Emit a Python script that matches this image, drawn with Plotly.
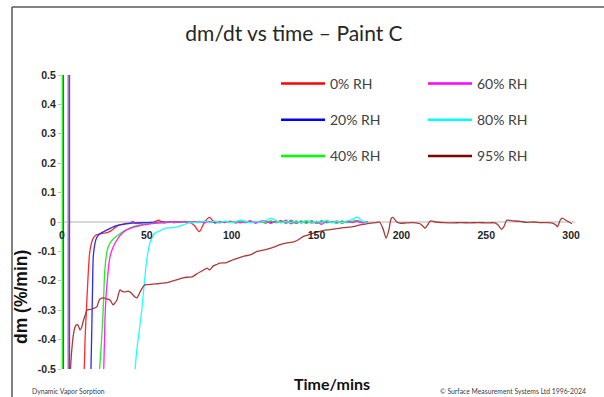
import plotly.graph_objects as go

# Shared time grid (min) for the settled tails of the 0-80 % RH runs
TAIL_T = [45, 48, 51, 54, 57, 60, 63, 66, 69, 72, 75, 78, 81, 84, 87, 90, 93, 96, 99, 102,
          105, 108, 111, 114, 117, 120, 123, 126, 129, 132, 135, 138, 141, 144, 147, 150,
          153, 156, 159, 162, 165, 168, 171, 174, 177, 180]

# Each run opens with an off-scale spike at the RH step (time, +peak, -peak)
SPIKE_T = [4.2, 0.7, 0.2, 4.0, 3.4, 4.4]
SPIKE_HI = [3.0, 3.0, 3.0, 3.0, 3.0, 3.0]
SPIKE_LO = [-3.0, -3.0, -3.0, -3.0, -3.0, -3.0]

# 0 % RH
RED_RISE_T = [13.0, 13.6, 14.2, 14.8, 15.5, 16.2, 17.0, 18.0, 19.0, 20.5, 22.5,
              24.5, 26.5, 28.0, 29.5, 31.0, 32.5, 34.0, 36.0, 38.0, 40.0, 41.8, 43.0]
RED_RISE_V = [-0.52, -0.40, -0.32, -0.25, -0.17, -0.11, -0.08, -0.06, -0.05, -0.043,
              -0.040, -0.038, -0.036, -0.033, -0.027, -0.020, -0.014, -0.010, -0.007, -0.005,
              -0.005, 0.002, -0.004]
RED_TAIL_V = [-0.004, -0.003, -0.002, -0.001, 0.006, -0.003, 0.001, -0.002, 0.002, -0.001,
              0.0, -0.012, -0.033, 0.0, 0.016, -0.004, 0.002, -0.002, 0.003, -0.003,
              0.001, -0.002, 0.004, -0.003, 0.002, -0.004, 0.003, -0.002, 0.005, -0.004,
              0.006, -0.005, 0.002, -0.003, 0.004, -0.005, 0.003, -0.002, 0.001, -0.003,
              0.002, -0.001, 0.001, 0.005, -0.002, 0.001]

# 20 % RH
BLUE_RISE_T = [17.0, 17.5, 18.0, 18.4, 19.2, 20.0, 21.0, 22.4, 24.5, 26.5, 29.0,
               31.2, 34.0, 37.0, 41.0]
BLUE_RISE_V = [-0.52, -0.38, -0.22, -0.12, -0.08, -0.06, -0.048, -0.04, -0.033,
               -0.027, -0.02, -0.014, -0.01, -0.007, -0.004]
BLUE_TAIL_V = [-0.003, -0.002, -0.002, -0.001, -0.001, 0.0, -0.001, 0.0, 0.001, -0.001,
               0.0, 0.001, -0.001, 0.0, 0.001, -0.001, 0.0, 0.002, -0.001, 0.0,
               0.001, -0.002, 0.001, 0.0, -0.001, 0.002, -0.001, 0.0, 0.002, -0.002,
               0.001, 0.0, -0.002, 0.002, -0.001, 0.001, -0.002, 0.001, 0.0, -0.001,
               0.002, -0.001, 0.001, 0.003, -0.001, 0.0]

# 40 % RH
GREEN_RISE_T = [21.9, 23.0, 24.0, 24.6, 25.0, 25.6, 26.3, 27.2, 28.3, 30.5, 33.2,
                36.5, 40.0, 43.0]
GREEN_RISE_V = [-0.52, -0.43, -0.333, -0.25, -0.186, -0.14, -0.106, -0.085,
                -0.072, -0.056, -0.044, -0.031, -0.021, -0.014]
GREEN_TAIL_V = [-0.011, -0.008, -0.006, -0.004, -0.003, -0.002, -0.001, -0.002, 0.0, -0.001,
                0.001, -0.001, 0.0, 0.002, -0.002, 0.001, -0.003, 0.002, 0.001, -0.002,
                0.001, -0.001, 0.003, -0.002, 0.002, -0.003, 0.004, -0.002, 0.003, -0.004,
                0.005, -0.003, 0.004, -0.005, 0.003, -0.004, 0.005, -0.003, 0.002, -0.004,
                0.003, -0.002, 0.002, 0.004, -0.001, 0.0]

# 60 % RH
MAG_RISE_T = [24.5, 25.0, 25.3, 26.0, 26.9, 27.6, 28.3, 30.2, 33.2, 35.5, 38.1, 42.0]
MAG_RISE_V = [-0.52, -0.41, -0.333, -0.25, -0.186, -0.145, -0.118, -0.084, -0.054,
              -0.038, -0.027, -0.018]
MAG_TAIL_V = [-0.014, -0.010, -0.007, -0.005, -0.003, -0.002, -0.001, 0.0, -0.001, 0.001,
              -0.001, 0.0, 0.002, -0.003, 0.001, 0.002, -0.002, 0.001, -0.001, 0.002,
              -0.003, 0.001, 0.003, -0.004, 0.002, 0.004, -0.005, 0.003, -0.002, 0.006,
              -0.006, 0.004, -0.003, 0.005, -0.004, 0.002, -0.008, 0.003, -0.002, 0.004,
              -0.005, 0.003, -0.002, 0.002, -0.003, 0.001]

# 80 % RH (tail starts at 78 min)
CYAN_RISE_T = [42.8, 44.0, 45.5, 47.0, 48.3, 49.5, 50.7, 52.0, 53.5, 55.0, 57.0,
               59.5, 62.0, 64.8, 66.5, 68.4, 71.3, 74.2]
CYAN_RISE_V = [-0.52, -0.44, -0.37, -0.3, -0.22, -0.15, -0.1, -0.068, -0.048,
               -0.037, -0.032, -0.024, -0.02, -0.02, -0.018, -0.016, -0.01, -0.004]
CYAN_TAIL_V = [-0.001, 0.0, 0.002, -0.002, 0.003, -0.001, 0.002, -0.002, 0.001, 0.006,
               0.003, -0.003, 0.002, -0.001, 0.004, 0.013, 0.005, -0.003, 0.002, -0.002,
               0.004, -0.003, 0.005, -0.004, 0.003, -0.002, 0.006, -0.003, 0.002, -0.003,
               0.004, 0.008, 0.017, 0.003, -0.001]
CYAN_TAIL_START = 78

# 95 % RH
BROWN_T = [4.6, 5.2, 6.0, 6.8, 7.7, 8.5, 9.4, 10.6, 11.5, 12.4, 13.5, 14.7, 16.0,
           17.7, 19.0, 20.6, 21.5, 22.4, 24.5, 26.5, 28.3, 30.1, 31.2, 32.4, 33.3, 34.2,
           35.5, 37.1, 38.9, 40.5, 41.8, 43.0, 44.2, 45.0, 46.0, 47.5, 48.9, 51.0, 53.6,
           56.5, 59.5, 62.5, 65.4, 68.5, 71.3, 74.0, 76.6, 79.0, 81.3, 83.0, 85.4, 87.0,
           89.0, 91.0, 93.0, 97.0, 101.0, 105.0, 108.0, 111.0, 115.0, 119.0, 122.6, 126.0,
           128.5, 132.0, 137.0, 140.0, 142.0, 145.0, 148.0, 152.0, 156.0, 160.0, 164.0,
           168.0, 171.5, 175.0, 178.5, 182.0, 185.0, 187.0, 189.0, 191.0, 192.5, 194.0,
           195.0, 197.0, 199.0, 203.0, 207.0, 211.0, 213.0, 214.0, 215.5, 217.0, 220.0,
           225.0, 230.0, 235.0, 240.0, 245.0, 250.0, 255.0, 257.0, 259.0, 260.5, 262.0,
           266.0, 270.0, 274.0, 278.0, 282.0, 286.0, 289.0, 291.0, 292.0, 293.5, 294.6,
           297.0, 300.5]
BROWN_V = [-0.55, -0.48, -0.42, -0.38, -0.357, -0.35, -0.35, -0.367, -0.36, -0.34,
           -0.32, -0.30, -0.298, -0.296, -0.293, -0.288, -0.272, -0.262, -0.258, -0.262,
           -0.265, -0.282, -0.275, -0.265, -0.245, -0.231, -0.236, -0.238, -0.235, -0.24,
           -0.248, -0.255, -0.258, -0.25, -0.238, -0.222, -0.214, -0.213, -0.211, -0.21,
           -0.208, -0.205, -0.2, -0.195, -0.19, -0.188, -0.187, -0.178, -0.17, -0.165,
           -0.157, -0.163, -0.15, -0.145, -0.14, -0.138, -0.128, -0.12, -0.115, -0.112,
           -0.1, -0.095, -0.09, -0.083, -0.077, -0.072, -0.067, -0.058, -0.05, -0.044,
           -0.038, -0.032, -0.027, -0.024, -0.021, -0.018, -0.016, -0.011, -0.007, -0.004,
           -0.002, 0.0, -0.02, -0.055, -0.03, 0.012, 0.016, 0.002, -0.004, -0.003, -0.002,
           -0.006, -0.016, -0.021, -0.01, 0.004, 0.0, -0.002, -0.003, -0.002, -0.003,
           -0.002, -0.003, -0.003, -0.01, -0.025, -0.015, 0.006, 0.004, 0.002, -0.001, 0.0,
           -0.002, -0.002, -0.004, -0.01, -0.016, 0.005, 0.013, 0.006, -0.006]

SERIES_NAMES = ["0% RH", "20% RH", "40% RH", "60% RH", "80% RH", "95% RH"]
SERIES_COLORS = ["#ff2a2a", "#2a2aff", "#22ee22", "#ff22ff", "#22ffff", "#a83a3a"]
LEGEND_COLORS = ["#ff0000", "#0000ff", "#00ff00", "#ff00ff", "#00ffff", "#7f0000"]

X_TICKS = [0, 50, 100, 150, 200, 250, 300]
Y_TICKS = [0.5, 0.4, 0.3, 0.2, 0.1, 0, -0.1, -0.2, -0.3, -0.4, -0.5]
Y_LABELS = ["0.5", "0.4", "0.3", "0.2", "0.1", "0", "-0.1", "-0.2", "-0.3", "-0.4", "-0.5"]

cyan_idx = TAIL_T.index(CYAN_TAIL_START)
series = [
    (RED_RISE_T + TAIL_T, RED_RISE_V + RED_TAIL_V),
    (BLUE_RISE_T + TAIL_T, BLUE_RISE_V + BLUE_TAIL_V),
    (GREEN_RISE_T + TAIL_T, GREEN_RISE_V + GREEN_TAIL_V),
    (MAG_RISE_T + TAIL_T, MAG_RISE_V + MAG_TAIL_V),
    (CYAN_RISE_T + TAIL_T[cyan_idx:], CYAN_RISE_V + CYAN_TAIL_V),
    (BROWN_T, BROWN_V),
]

fig = go.Figure()
for i, ((t, v), color) in enumerate(zip(series, SERIES_COLORS)):
    # straight spike at the step, then a smoothed response curve
    fig.add_trace(go.Scatter(x=[SPIKE_T[i], SPIKE_T[i]], y=[SPIKE_HI[i], SPIKE_LO[i]],
                             mode="lines", showlegend=False, hoverinfo="skip",
                             line=dict(color=color, width=1.4)))
    fig.add_trace(go.Scatter(x=t, y=v, mode="lines", showlegend=False, hoverinfo="skip",
                             line=dict(color=color, width=1.3, shape="spline", smoothing=0.6)))

# Legend keys: two columns of three
for i, (name, color) in enumerate(zip(SERIES_NAMES, LEGEND_COLORS)):
    fig.add_trace(go.Scatter(x=[None], y=[None], mode="lines", name=name,
                             legend="legend" if i < 3 else "legend2",
                             legendgroup=f"g{i}",
                             line=dict(color=color, width=2.5)))

L, W, T, H = 62, 513, 75, 294
FW, FH = 604, 397


def px_x(p):
    return (p - L) / W


def px_y(p):
    return (T + H - p) / H


tick_font = dict(family="Liberation Sans, Arial", size=10.5, color="#262626", weight="bold")
legend_common = dict(orientation="v", yanchor="top", xanchor="left", tracegroupgap=15,
                     itemwidth=44, bgcolor="rgba(0,0,0,0)",
                     font=dict(family="Lato", size=14, color="#404040"))

fig.update_layout(
    width=FW, height=FH, autosize=False,
    margin=dict(l=L, r=FW - L - W, t=T, b=FH - T - H, pad=0),
    paper_bgcolor="white", plot_bgcolor="white",
    title=dict(text="dm/dt vs time – Paint C", x=294 / FW, xanchor="center",
               y=1 - 34 / FH, yanchor="middle",
               font=dict(family="Lato", size=21, color="#262626")),
    xaxis=dict(range=[0, W / 1.697], anchor="free", position=0.5, showgrid=False,
               zeroline=False, showline=False, ticks="", tickvals=X_TICKS,
               ticklabelstandoff=5, tickfont=tick_font),
    yaxis=dict(range=[-0.5, 0.5], showgrid=False, zeroline=True, zerolinecolor="#d9d9d9",
               zerolinewidth=1.5, showline=True, linecolor="#d9d9d9", linewidth=1,
               ticks="outside", ticklen=3, tickcolor="#bfbfbf",
               tickvals=Y_TICKS, ticktext=Y_LABELS, tickfont=tick_font),
    legend=dict(x=px_x(276), y=px_y(68), **legend_common),
    legend2=dict(x=px_x(423), y=px_y(68), **legend_common),
    showlegend=True,
)

# Outer frame (top and left edges)
frame = dict(type="line", xref="paper", yref="paper", line=dict(color="#595959", width=1.5))
fig.add_shape(x0=px_x(12), x1=px_x(FW + 5), y0=px_y(7), y1=px_y(7), **frame)
fig.add_shape(x0=px_x(12), x1=px_x(12), y0=px_y(7), y1=px_y(FH + 5), **frame)

fig.add_annotation(text="dm (%/min)", textangle=-90, x=px_x(21), y=px_y(297),
                   xanchor="center", yanchor="middle",
                   xref="paper", yref="paper", showarrow=False,
                   font=dict(family="Liberation Sans, Arial", size=17.5, color="#111111",
                             weight="bold"))
fig.add_annotation(text="Time/mins", x=px_x(332), y=px_y(383), xanchor="center",
                   yanchor="middle", xref="paper", yref="paper", showarrow=False,
                   font=dict(family="Lato", size=16, color="#111111", weight="bold"))
fig.add_annotation(text="Dynamic Vapor Sorption", x=px_x(30), y=px_y(391), xanchor="left",
                   yanchor="middle", xref="paper", yref="paper", showarrow=False,
                   font=dict(family="Lato", size=6.8, color="#404040"))
fig.add_annotation(text="© Surface Measurement Systems Ltd 1996-2024", x=px_x(588),
                   y=px_y(391), xanchor="right", yanchor="middle", xref="paper",
                   yref="paper", showarrow=False,
                   font=dict(family="Lato", size=6.8, color="#404040"))

fig.write_html("out.html")
